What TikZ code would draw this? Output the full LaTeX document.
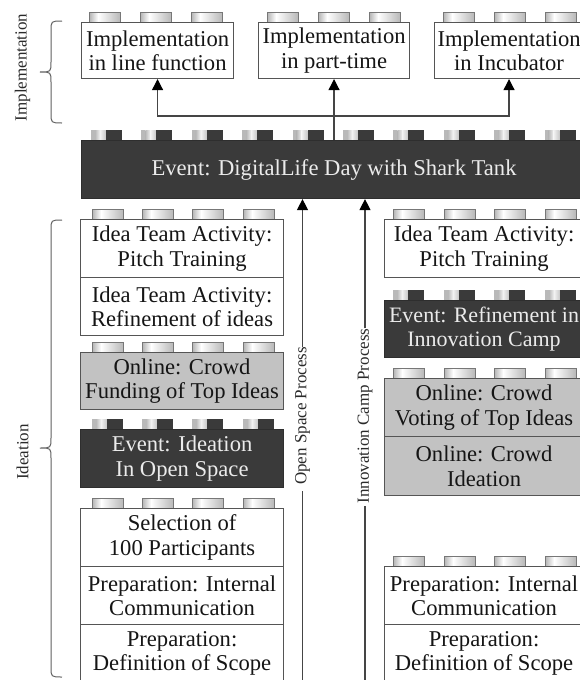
\documentclass[tikz,border=0pt]{standalone}
\usepackage{fontspec}
\setmainfont{Liberation Serif}
\usetikzlibrary{arrows.meta}
\definecolor{bordc}{HTML}{555555}
\definecolor{greyc}{HTML}{C2C2C2}
\definecolor{darkc}{HTML}{3A3A3A}
\definecolor{txtc}{HTML}{151515}
\definecolor{linec}{HTML}{454545}
\definecolor{studbord}{HTML}{777777}
\definecolor{labc}{HTML}{2A2A2A}
\newcommand{\bigfs}{\fontsize{22.6pt}{24.5pt}\selectfont}
\newcommand{\tightfs}{\fontsize{22pt}{24.5pt}\selectfont}
\newcommand{\smallfs}{\fontsize{17pt}{19pt}\selectfont}
\newcommand{\mystudL}[2]{%
  \shade[left color=gray!60, right color=white] (#1,#2) rectangle ++(9,10);
  \shade[left color=white, right color=gray!55] (#1+9,#2) rectangle ++(22,10);
  \draw[studbord, line width=0.8pt] (#1,#2) rectangle ++(31,10);
}
\newcommand{\mystudD}[2]{%
  \fill[gray!55] (#1,#2) rectangle ++(4,10);
  \shade[left color=gray!55, right color=white!90!gray] (#1+4,#2) rectangle ++(5,10);
  \shade[left color=white!90!gray, right color=gray!45] (#1+9,#2) rectangle ++(6,10);
  \fill[darkc] (#1+15,#2) rectangle ++(16,10);
}
\tikzset{
  blk/.style={draw=bordc, line width=1.1pt, inner sep=0pt, align=center,
    font=\bigfs, text=txtc, anchor=north west, minimum height=58pt, minimum width=203pt},
  whiteblk/.style={blk, fill=white},
  greyblk/.style={blk, fill=greyc},
  darkblk/.style={blk, fill=darkc, draw=darkc!80!black, text=white!92!black},
  rcol/.style={minimum width=199pt},
  arr/.style={draw=linec, line width=1.2pt, -{Triangle[length=11pt,width=11pt,color=black]}},
  plainline/.style={draw=linec, line width=1.2pt},
  sidelab/.style={rotate=90, font=\smallfs, text=labc, inner sep=0pt},
  proclab/.style={rotate=90, font=\smallfs, text=labc, inner xsep=0pt, inner ysep=1pt},
  bracepath/.style={draw=gray!75!black, line width=1pt},
}
\begin{document}
\begin{tikzpicture}[x=1pt,y=-1pt]
\useasboundingbox (0,0) rectangle (580,680);
\clip (0,0) rectangle (580,680);
\fill[white] (0,0) rectangle (580,680);

% ---------- Implementation row ----------
\foreach \sx in {89,140,191,267,318,369,443,494,545} {\mystudL{\sx}{12}}
\node[whiteblk, minimum width=152pt, minimum height=56pt] (I1) at (81,22) {Implementation\\in line function};
\node[whiteblk, minimum width=151pt, minimum height=56pt] (I2) at (258,22) {Implementation\\in part-time};
\node[whiteblk, minimum width=149pt, minimum height=56pt] (I3) at (434,22) {Implementation\\in Incubator};

% ---------- Event bar ----------
\foreach \k in {0,...,9} {\mystudD{91+50.4*\k}{130}}
\node[darkblk, minimum width=505pt, minimum height=58pt] (bar) at (81,140) {Event: DigitalLife Day with Shark Tank};

% connectors to implementation
\coordinate (jn) at (333.5,116);
\draw[arr] (bar.north -| I2.south) -- (I2.south);
\draw[arr] (jn) -| (I1.south);
\draw[arr] (jn) -| (I3.south);

% ---------- Left column ----------
\foreach \sx in {92,142,192,243} {\mystudL{\sx}{209}}
\node[whiteblk] (L1) at (80,219) {Idea Team Activity:\\Pitch Training};
\node[whiteblk] (L2) at (80,277) {Idea Team Activity:\\Refinement of ideas};
\foreach \sx in {92,142,192,243} {\mystudL{\sx}{342}}
\node[greyblk, minimum height=57pt] (L3) at (80,352) {Online: Crowd\\Funding of Top Ideas};
\foreach \sx in {92,142,192,243} {\mystudD{\sx}{419}}
\node[darkblk] (L4) at (80,429) {Event: Ideation\\In Open Space};
\foreach \sx in {92,142,192,243} {\mystudL{\sx}{498}}
\node[whiteblk] (L5) at (80,508) {Selection of\\100 Participants};
\node[whiteblk] (L6) at (80,566) {Preparation: Internal\\Communication};
\node[whiteblk] (L7) at (80,624) {Preparation:\\Definition of Scope};

% ---------- Right column ----------
\foreach \sx in {393,444,494,545} {\mystudL{\sx}{209}}
\node[whiteblk, rcol] (R1) at (384,219) {Idea Team Activity:\\Pitch Training};
\foreach \sx in {393,444,494,545} {\mystudD{\sx}{290}}
\node[darkblk, rcol, minimum height=57pt, font=\tightfs] (R2) at (384,300) {Event: Refinement in\\Innovation Camp};
\foreach \sx in {393,444,494,545} {\mystudL{\sx}{368}}
\node[greyblk, rcol] (R3) at (384,378) {Online: Crowd\\Voting of Top Ideas};
\node[greyblk, rcol, minimum height=59pt] (R4) at (384,436) {Online: Crowd\\Ideation};
\foreach \sx in {393,444,494,545} {\mystudL{\sx}{556}}
\node[whiteblk, rcol] (R5) at (384,566) {Preparation: Internal\\Communication};
\node[whiteblk, rcol] (R6) at (384,624) {Preparation:\\Definition of Scope};

% ---------- Process arrows ----------
\node[proclab] (osl) at (302.5,416) {Open Space Process};
\coordinate (osb) at (302.5,690);
\draw[plainline] (osb) -- ([yshift=-6pt]osl.west);
\draw[arr] (osl.east) -- (osl.east |- bar.south);

\node[proclab] (icl) at (365,416) {Innovation Camp Process};
\coordinate (icb) at (365,690);
\draw[plainline] (icb) -- ([yshift=-2pt]icl.west);
\draw[arr] (icl.east) -- (icl.east |- bar.south);

% ---------- Braces and side labels ----------
\draw[bracepath] (62,21) .. controls (51,21) .. (51,31) -- (51,62)
  .. controls (51,72) .. (40,72) .. controls (51,72) .. (51,82) -- (51,113)
  .. controls (51,123) .. (62,123);
\node[sidelab] (implab) at (22.5,67.5) {Implementation};

\draw[bracepath] (62,220) .. controls (51,220) .. (51,230) -- (51,438)
  .. controls (51,448) .. (40,448) .. controls (51,448) .. (51,458) -- (51,667)
  .. controls (51,677) .. (62,677);
\node[sidelab] (idelab) at (22.5,452) {Ideation};
\end{tikzpicture}
\end{document}
